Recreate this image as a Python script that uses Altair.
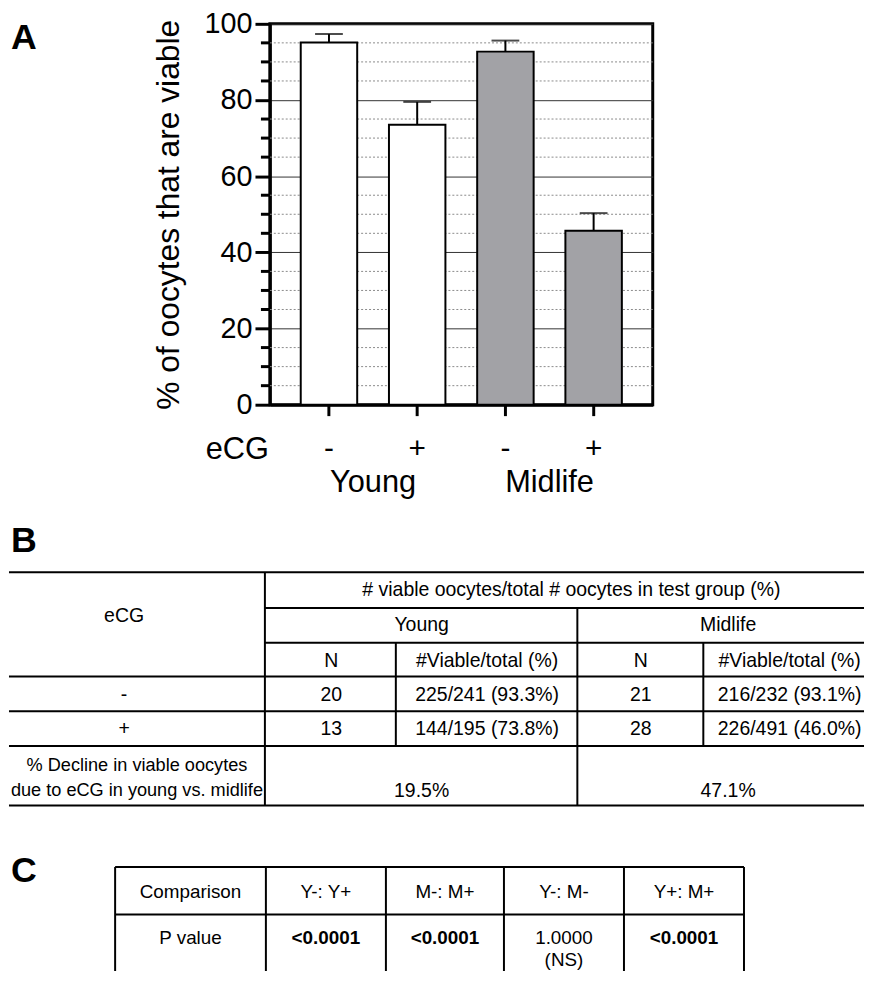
import altair as alt
import pandas as pd

FONT = "Liberation Sans"

# ---------------- Panel A data: % viable oocytes (mean, SEM) ----------------
GROUPS = ["Young -", "Young +", "Midlife -", "Midlife +"]
AGE = ["Young", "Young", "Midlife", "Midlife"]
MEAN_VIABLE = [95.1, 73.5, 92.7, 45.7]
SEM_VIABLE = [2.2, 6.0, 2.9, 4.6]
AGE_LABELS = ["Young", "Midlife"]
AGE_ANCHOR = ["Young -", "Midlife -"]
MAJOR_TICKS = [0, 20, 40, 60, 80, 100]
MINOR_TICKS = [5, 10, 15, 25, 30, 35, 45, 50, 55, 65, 70, 75, 85, 90, 95]

# ---------------- Panel B data: counts table ----------------
B_HEADER = "# viable oocytes/total # oocytes in test group (%)"
B_SUBHEAD = ["N", "#Viable/total (%)"]
ECG_SIGNS = ["-", "+"]
N_YOUNG = [20, 13]
VIABLE_YOUNG = [225, 144]
TOTAL_YOUNG = [241, 195]
PCT_YOUNG = [93.3, 73.8]
N_MIDLIFE = [21, 28]
VIABLE_MIDLIFE = [216, 226]
TOTAL_MIDLIFE = [232, 491]
PCT_MIDLIFE = [93.1, 46.0]
DECLINE_LABEL = ["% Decline in viable oocytes", "due to eCG in young vs. midlife"]
DECLINE_PCT = [19.5, 47.1]

# ---------------- Panel C data: statistics table ----------------
C_HEAD = "Comparison"
C_ROW = "P value"
COMPARISONS = ["Y-: Y+", "M-: M+", "Y-: M-", "Y+: M+"]
P_VALUES = ["<0.0001", "<0.0001", "1.0000", "<0.0001"]
P_NOTES = ["", "", "(NS)", ""]
P_SIGNIFICANT = [True, True, False, True]

# ---------------- layout (page pixel coordinates of the tables) ----------------
PAGE_X = [8, 870]
B_PAGE_Y = [503, 812]
C_PAGE_Y = [812, 973]

B_HLINES = [(573, -20, 884), (609, 266, 884), (644, 266, 884), (678, -20, 884),
            (713, -20, 884), (748, -20, 884), (808, -20, 884)]
B_VLINES = [(266, 573, 808), (581, 609, 808), (398, 644, 748), (708, 644, 748)]
B_X_LABEL, B_X_HEADER, B_X_DECLINE = 124, 575, 137
B_X_GROUP = [424, 733]
B_X_SUB = [(333, 490), (645, 795)]
B_Y_ECG, B_Y_HEADER, B_Y_GROUP, B_Y_SUB = 617, 591, 626, 662
B_Y_ROWS = [697, 731]
B_Y_DECLINE = [768, 793]

C_COL_EDGES = [115, 267, 388, 507, 628, 749]
C_TOP, C_MID, C_BOTTOM = 868, 916, 990
C_Y_HEAD, C_Y_P, C_Y_NOTE = 893, 940, 962

# ======================= Panel A =======================
bar_df = pd.DataFrame({"group": GROUPS, "age": AGE, "mean": MEAN_VIABLE, "sem": SEM_VIABLE})
bar_df["upper"] = bar_df["mean"] + bar_df["sem"]

x_scale = alt.Scale(domain=GROUPS, paddingInner=0.36, paddingOuter=0.35)
y_scale = alt.Scale(domain=[0, 100], nice=False)

x_axis = alt.Axis(title=None, labelExpr="slice(datum.label, -1)", labelAngle=0,
                  labelFont=FONT, labelFontSize=30, labelColor="black",
                  labelBaseline="alphabetic", labelPadding=42,
                  tickSize=11, tickWidth=3, tickColor="black",
                  domainWidth=3, domainColor="black", grid=False)
y_axis = alt.Axis(title="% of oocytes that are viable", values=MAJOR_TICKS,
                  labelFont=FONT, labelFontSize=29, labelColor="black", labelPadding=3,
                  tickSize=15, tickWidth=3, tickColor="black",
                  domainWidth=3, domainColor="black",
                  grid=True, gridWidth=1, gridColor="#333333",
                  titleFont=FONT, titleFontSize=32, titleFontWeight="normal",
                  titleColor="black", titlePadding=19)

base = alt.Chart(bar_df)
minor_df = pd.DataFrame({"v": MINOR_TICKS})
minor_grid = alt.Chart(minor_df).mark_rule(color="#8a8a8a", strokeWidth=1, strokeDash=[2, 2]).encode(
    y=alt.Y("v:Q", scale=y_scale))
minor_ticks = alt.Chart(minor_df).mark_rule(color="black", strokeWidth=3).encode(
    y=alt.Y("v:Q", scale=y_scale), x=alt.value(-9), x2=alt.value(0))

bars = base.mark_bar(stroke="black", strokeWidth=2).encode(
    x=alt.X("group:N", scale=x_scale, axis=x_axis),
    y=alt.Y("mean:Q", scale=y_scale, axis=y_axis),
    color=alt.Color("age:N", scale=alt.Scale(domain=AGE_LABELS, range=["#ffffff", "#a2a2a6"]),
                    legend=None),
)
err = base.mark_rule(color="black", strokeWidth=2).encode(
    x=alt.X("group:N", scale=x_scale), y="mean:Q", y2="upper:Q")
caps = base.mark_tick(color="black", thickness=2, size=28).encode(
    x=alt.X("group:N", scale=x_scale), y="upper:Q")

age_text = alt.Chart(pd.DataFrame({"group": AGE_ANCHOR, "label": AGE_LABELS})).mark_text(
    dx=44.5, font=FONT, fontSize=31, baseline="alphabetic", color="black"
).encode(x=alt.X("group:N", scale=x_scale), y=alt.value(472), text="label:N")

ecg_text = alt.Chart(pd.DataFrame({"label": ["eCG"]})).mark_text(
    align="right", font=FONT, fontSize=31, baseline="alphabetic", color="black"
).encode(x=alt.value(-1), y=alt.value(439), text="label:N")

# invisible box that fixes the panel's extent (so the grid layout is predictable)
extent_a = alt.Chart(pd.DataFrame({"k": [0]})).mark_rect(opacity=0).encode(
    x=alt.value(-150), x2=alt.value(0), y=alt.value(-15), y2=alt.value(480))

plot_a = alt.layer(extent_a, minor_grid, bars, err, caps, minor_ticks, age_text, ecg_text).properties(
    width=386, height=384, view=alt.ViewBackground(stroke="black", strokeWidth=3))

letter_a = alt.Chart(pd.DataFrame({"label": ["A"]})).mark_text(
    align="left", font=FONT, fontSize=36, fontWeight="bold", baseline="alphabetic", color="black"
).encode(x=alt.value(2), y=alt.value(25), text="label:N").properties(width=110, height=384)

panel_a = alt.hconcat(letter_a, plot_a, spacing=0)

# ======================= Panel B =======================
bx = alt.Scale(domain=PAGE_X, nice=False, zero=False)
by = alt.Scale(domain=B_PAGE_Y, nice=False, zero=False, reverse=True)

def add(rows, x, y, text):
    rows.append({"x": x, "y": y, "text": text})

b_text, b_small = [], []
add(b_text, B_X_LABEL, B_Y_ECG, "eCG")
add(b_text, B_X_HEADER, B_Y_HEADER, B_HEADER)
for name, xc in zip(AGE_LABELS, B_X_GROUP):
    add(b_text, xc, B_Y_GROUP, name)
for xn, xv in B_X_SUB:
    add(b_text, xn, B_Y_SUB, B_SUBHEAD[0])
    add(b_text, xv, B_Y_SUB, B_SUBHEAD[1])
for i, sign in enumerate(ECG_SIGNS):
    y = B_Y_ROWS[i]
    add(b_text, B_X_LABEL, y, sign)
    add(b_text, B_X_SUB[0][0], y, str(N_YOUNG[i]))
    add(b_text, B_X_SUB[0][1], y, f"{VIABLE_YOUNG[i]}/{TOTAL_YOUNG[i]} ({PCT_YOUNG[i]:.1f}%)")
    add(b_text, B_X_SUB[1][0], y, str(N_MIDLIFE[i]))
    add(b_text, B_X_SUB[1][1], y, f"{VIABLE_MIDLIFE[i]}/{TOTAL_MIDLIFE[i]} ({PCT_MIDLIFE[i]:.1f}%)")
for line, y in zip(DECLINE_LABEL, B_Y_DECLINE):
    add(b_small, B_X_DECLINE, y, line)
for xc, pct in zip(B_X_GROUP, DECLINE_PCT):
    add(b_text, xc, B_Y_DECLINE[1], f"{pct:.1f}%")

b_h = pd.DataFrame(B_HLINES, columns=["y", "x1", "x2"])
b_v = pd.DataFrame(B_VLINES, columns=["x", "y1", "y2"])

b_hl = alt.Chart(b_h).mark_rule(color="black", strokeWidth=2, clip=True).encode(
    x=alt.X("x1:Q", scale=bx, axis=None), x2="x2:Q", y=alt.Y("y:Q", scale=by, axis=None))
b_vl = alt.Chart(b_v).mark_rule(color="black", strokeWidth=2, clip=True).encode(
    x=alt.X("x:Q", scale=bx, axis=None), y=alt.Y("y1:Q", scale=by, axis=None), y2="y2:Q")
b_tx = alt.Chart(pd.DataFrame(b_text)).mark_text(
    font=FONT, fontSize=19.6, color="black", baseline="middle", clip=True
).encode(x=alt.X("x:Q", scale=bx, axis=None), y=alt.Y("y:Q", scale=by, axis=None), text="text:N")
b_tx2 = alt.Chart(pd.DataFrame(b_small)).mark_text(
    font=FONT, fontSize=18.3, color="black", baseline="middle", clip=True
).encode(x=alt.X("x:Q", scale=bx, axis=None), y=alt.Y("y:Q", scale=by, axis=None), text="text:N")
letter_b = alt.Chart(pd.DataFrame({"x": [10], "y": [552], "text": ["B"]})).mark_text(
    align="left", font=FONT, fontSize=36, fontWeight="bold", baseline="alphabetic", color="black"
).encode(x=alt.X("x:Q", scale=bx, axis=None), y=alt.Y("y:Q", scale=by, axis=None), text="text:N")

panel_b = alt.layer(b_hl, b_vl, b_tx, b_tx2, letter_b).properties(width=862, height=309)

# ======================= Panel C =======================
cy = alt.Scale(domain=C_PAGE_Y, nice=False, zero=False, reverse=True)
c_centers = [(a + b) / 2 for a, b in zip(C_COL_EDGES[:-1], C_COL_EDGES[1:])]

c_h = pd.DataFrame({"y": [C_TOP, C_MID], "x1": [C_COL_EDGES[0]] * 2, "x2": [C_COL_EDGES[-1]] * 2})
c_v = pd.DataFrame({"x": C_COL_EDGES, "y1": [C_TOP] * len(C_COL_EDGES), "y2": [C_BOTTOM] * len(C_COL_EDGES)})

c_plain, c_bold = [], []
add(c_plain, c_centers[0], C_Y_HEAD, C_HEAD)
add(c_plain, c_centers[0], C_Y_P, C_ROW)
for i, comp in enumerate(COMPARISONS):
    xc = c_centers[i + 1]
    add(c_plain, xc, C_Y_HEAD, comp)
    add(c_bold if P_SIGNIFICANT[i] else c_plain, xc, C_Y_P, P_VALUES[i])
    if P_NOTES[i]:
        add(c_plain, xc, C_Y_NOTE, P_NOTES[i])

c_hl = alt.Chart(c_h).mark_rule(color="black", strokeWidth=2, clip=True).encode(
    x=alt.X("x1:Q", scale=bx, axis=None), x2="x2:Q", y=alt.Y("y:Q", scale=cy, axis=None))
c_vl = alt.Chart(c_v).mark_rule(color="black", strokeWidth=2, clip=True).encode(
    x=alt.X("x:Q", scale=bx, axis=None), y=alt.Y("y1:Q", scale=cy, axis=None), y2="y2:Q")
c_tx = alt.Chart(pd.DataFrame(c_plain)).mark_text(
    font=FONT, fontSize=19, color="black", baseline="middle", clip=True
).encode(x=alt.X("x:Q", scale=bx, axis=None), y=alt.Y("y:Q", scale=cy, axis=None), text="text:N")
c_txb = alt.Chart(pd.DataFrame(c_bold)).mark_text(
    font=FONT, fontSize=19, fontWeight="bold", color="black", baseline="middle", clip=True
).encode(x=alt.X("x:Q", scale=bx, axis=None), y=alt.Y("y:Q", scale=cy, axis=None), text="text:N")
letter_c = alt.Chart(pd.DataFrame({"x": [10], "y": [883], "text": ["C"]})).mark_text(
    align="left", font=FONT, fontSize=36, fontWeight="bold", baseline="alphabetic", color="black"
).encode(x=alt.X("x:Q", scale=bx, axis=None), y=alt.Y("y:Q", scale=cy, axis=None), text="text:N")

panel_c = alt.layer(c_hl, c_vl, c_tx, c_txb, letter_c).properties(width=862, height=161)

chart = alt.vconcat(panel_a, panel_b, panel_c, spacing=0,
                    padding={"top": -5, "left": 0, "right": 0, "bottom": 0}).configure_view(
    stroke="transparent")

chart.save("out.html", embed_options={"renderer": "svg", "actions": False})
